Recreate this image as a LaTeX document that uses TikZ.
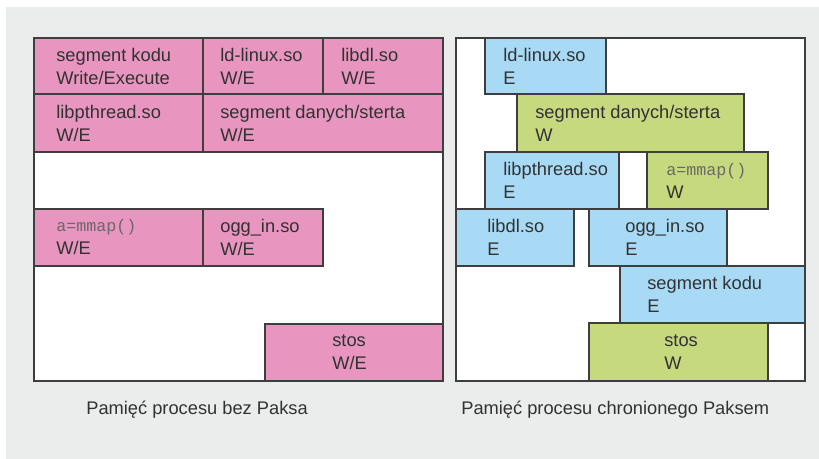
\documentclass[tikz,border=0pt]{standalone}
\usepackage{fontspec}
\setmainfont{Liberation Sans}
\setmonofont{Liberation Mono}
\usepackage{xcolor}
\usetikzlibrary{positioning}
\definecolor{pagegray}{RGB}{235,236,236}
\definecolor{edgegray}{RGB}{62,62,62}
\definecolor{textgray}{RGB}{50,50,50}
\definecolor{codegray}{RGB}{105,105,105}
\definecolor{pinkwe}{RGB}{232,149,191}
\definecolor{bluee}{RGB}{168,218,245}
\definecolor{greenw}{RGB}{198,217,126}

\begin{document}
\begin{tikzpicture}[x=0.02cm, y=-0.02cm,
    frame/.style={draw=edgegray, line width=1pt, fill=white},
    webox/.style={draw=edgegray, line width=1pt, fill=pinkwe},
    ebox/.style={draw=edgegray, line width=1pt, fill=bluee},
    wbox/.style={draw=edgegray, line width=1pt, fill=greenw},
    lbl/.style={anchor=west, align=left, inner sep=0pt, text=textgray,
        font=\fontsize{10.4}{13.1}\selectfont}]
    \useasboundingbox (0,0) rectangle (819,459);
    % background
    \fill[white] (0,0) rectangle (819,459);
    \fill[pagegray] (6,7) rectangle (819,459);
    % process memory frames
    \draw[frame] (34,38) rectangle (443,381);
    \draw[frame] (456,38) rectangle (805,381);

    % without PaX
    \draw[webox] (34,38) rectangle (203,94);
    \node[lbl] (kodL) at (56,66) {segment kodu\\Write/Execute};
    \draw[webox] (203,38) rectangle (323,94);
    \node[lbl] (ldL) at (220,66) {ld-linux.so\\W/E};
    \draw[webox] (323,38) rectangle (443,94);
    \node[lbl] (dlL) at (341,66) {libdl.so\\W/E};
    \draw[webox] (34,94) rectangle (203,152);
    \node[lbl] (pthL) at (56,123) {libpthread.so\\W/E};
    \draw[webox] (203,94) rectangle (443,152);
    \node[lbl] (danL) at (220,123) {segment danych/sterta\\W/E};
    \draw[webox] (34,209) rectangle (203,266);
    \node[lbl] (mmapL) at (56,237.5) {{\fontsize{9.5}{11}\ttfamily\color{codegray}a=mmap()}\\W/E};
    \draw[webox] (203,209) rectangle (323,266);
    \node[lbl] (oggL) at (220,237.5) {ogg\_in.so\\W/E};
    \draw[webox] (265,324) rectangle (443,381);
    \node[lbl] (stosL) at (332,352.5) {stos\\W/E};

    % with PaX
    \draw[ebox] (485,38) rectangle (606,94);
    \node[lbl] (ldR) at (503,66) {ld-linux.so\\E};
    \draw[wbox] (517,94) rectangle (744,152);
    \node[lbl] (danR) at (535,123) {segment danych/sterta\\W};
    \draw[ebox] (485,152) rectangle (619,209);
    \node[lbl] (pthR) at (503,180.5) {libpthread.so\\E};
    \draw[wbox] (647,152) rectangle (768,209);
    \node[lbl] (mmapR) at (666,180.5) {{\fontsize{9.5}{11}\ttfamily\color{codegray}a=mmap()}\\W};
    \draw[ebox] (456,209) rectangle (574,266);
    \node[lbl] (dlR) at (487,237.5) {libdl.so\\E};
    \draw[ebox] (589,209) rectangle (727,266);
    \node[lbl] (oggR) at (625,237.5) {ogg\_in.so\\E};
    \draw[ebox] (620,266) rectangle (805,323);
    \node[lbl] (kodR) at (647,294.5) {segment kodu\\E};
    \draw[wbox] (589,323) rectangle (768,381);
    \node[lbl] (stosR) at (664,352) {stos\\W};

    % captions
    \node[lbl] (capL) at (86,410) {Pamięć procesu bez Paksa};
    \node[lbl] (capR) at (461,410) {Pamięć procesu chronionego Paksem};
\end{tikzpicture}
\end{document}
